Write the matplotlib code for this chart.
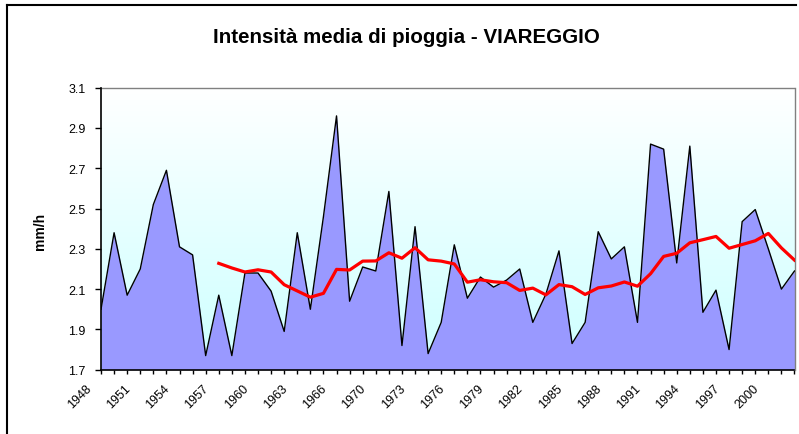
import matplotlib
matplotlib.use("Agg")
import matplotlib.pyplot as plt
import matplotlib.transforms as mtransforms
import numpy as np
import pandas as pd
from matplotlib.lines import Line2D

plt.rcParams['font.family'] = ['Liberation Sans', 'DejaVu Sans']

years = list(range(1948, 1967)) + list(range(1968, 2003))
intensity = [2.00, 2.38, 2.07, 2.20, 2.52, 2.69, 2.31, 2.27, 1.77, 2.07,
             1.77, 2.18, 2.18, 2.09, 1.89, 2.38, 2.00, 2.46, 2.96, 2.04,
             2.21, 2.19, 2.585, 1.82, 2.41, 1.78, 1.935, 2.32, 2.055, 2.16,
             2.11, 2.145, 2.20, 1.935, 2.075, 2.29, 1.83, 1.935, 2.385, 2.25,
             2.31, 1.935, 2.82, 2.795, 2.23, 2.81, 1.985, 2.095, 1.80, 2.435,
             2.495, 2.30, 2.10, 2.19]
window = 10
y_ticks = [1.7, 1.9, 2.1, 2.3, 2.5, 2.7, 2.9, 3.1]
title = "Intensità media di pioggia - VIAREGGIO"
ylabel = "mm/h"

W, H = 799, 435
fig = plt.figure(figsize=(W / 100, H / 100), dpi=100)
ax = fig.add_axes([101 / W, 1 - 370.7 / H, (794.5 - 101) / W, (370.7 - 88.7) / H])

x = np.arange(len(years))
vals = np.array(intensity)
ma = pd.Series(vals).rolling(window).mean().to_numpy()

# gradient background
grad = np.linspace(0, 1, 256).reshape(-1, 1)
top = np.array([0.80, 1.0, 1.0])
bot = np.array([1.0, 1.0, 1.0])
img = top[None, None, :] * (1 - grad[:, :, None]) + bot[None, None, :] * grad[:, :, None]
ax.imshow(img, extent=[0, len(years) - 1, 3.1, 1.7], aspect='auto', zorder=0)

ax.fill_between(x, 1.7, vals, color='#9999FF', zorder=2, linewidth=0)
ax.plot(x, vals, color='black', lw=1.0, zorder=3)
ax.plot(x, ma, color='#FF0000', lw=2.3, zorder=4, solid_joinstyle='round')

ax.set_xlim(0, len(years) - 1)
ax.set_ylim(1.7, 3.1)
ax.set_yticks(y_ticks)
ax.set_yticklabels([f"{v:.1f}" for v in y_ticks], fontsize=9)
ax.set_xticks(x)
ax.set_xticklabels([str(y) if i % 3 == 0 else "" for i, y in enumerate(years)],
                   rotation=45, ha='right', va='top', rotation_mode='anchor', fontsize=9)
ax.tick_params(axis='x', length=3, width=1, direction='out', pad=6)
ax.tick_params(axis='y', length=4, width=1, direction='out', pad=7)

offset = mtransforms.ScaledTranslation(-16 / 100, 0, fig.dpi_scale_trans)
for lbl in ax.get_xticklabels():
    lbl.set_transform(lbl.get_transform() + offset)

for s in ['left', 'bottom']:
    ax.spines[s].set_color('black')
    ax.spines[s].set_linewidth(1.2)
    ax.spines[s].set_zorder(5)
for s in ['top', 'right']:
    ax.spines[s].set_color('#808080')
    ax.spines[s].set_linewidth(1.0)

fig.text(406.5 / W, 1 - 42.7 / H, title, ha='center', va='baseline', fontsize=14.8, fontweight='bold')
fig.text(40 / W, 1 - 231 / H, ylabel, ha='center', va='center', rotation=90, fontsize=10, fontweight='bold')

# chart area border (partially cropped)
fig.add_artist(Line2D([7 / W, 7 / W], [0, 1 - 6 / H], transform=fig.transFigure, color='black', lw=1.5))
fig.add_artist(Line2D([7 / W, 796 / W], [1 - 6 / H, 1 - 6 / H], transform=fig.transFigure, color='black', lw=1.5))

fig.savefig("out.png", dpi=100)
